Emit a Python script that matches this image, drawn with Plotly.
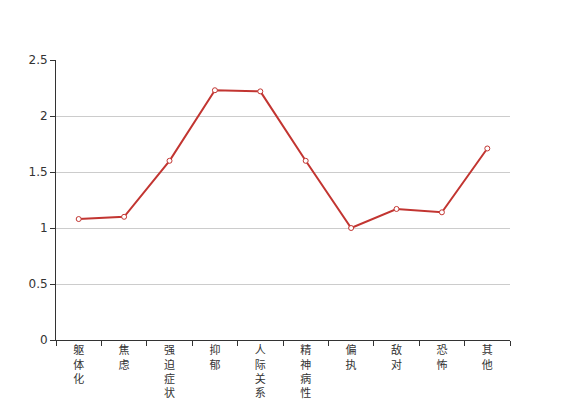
import plotly.graph_objects as go

categories = ["躯体化", "焦虑", "强迫症状", "抑郁", "人际关系敏感", "精神病性", "偏执", "敌对", "恐怖", "其他"]
values = [1.08, 1.10, 1.60, 2.23, 2.22, 1.60, 1.00, 1.17, 1.14, 1.71]

tick_text = ["<br>".join(list(c)) for c in categories]

fig = go.Figure()
fig.add_trace(go.Scatter(
    x=categories, y=values, mode="lines+markers",
    line=dict(color="#c23531", width=2),
    marker=dict(symbol="circle", size=5, color="white", line=dict(color="#c23531", width=1)),
    cliponaxis=False,
))

font_family = "DejaVu Sans, Noto Sans CJK SC, sans-serif"
# page body has an 8px margin, so the figure is offset by 8px
fig.update_layout(
    width=559, height=392,
    margin=dict(l=48, r=57, t=52, b=60),
    plot_bgcolor="white", paper_bgcolor="white",
    showlegend=False,
    font=dict(family=font_family, size=12, color="#333"),
    xaxis=dict(
        type="category", automargin=False,
        tickmode="array", tickvals=categories, ticktext=tick_text,
        tickson="boundaries", ticks="outside", ticklen=5, tickcolor="#333",
        showline=True, linecolor="#333", linewidth=1,
        showgrid=False, zeroline=False,
        tickfont=dict(size=11, color="#333"),
        range=[-0.5, 9.5],
    ),
    yaxis=dict(
        automargin=False,
        range=[0, 2.5], tickvals=[0, 0.5, 1, 1.5, 2, 2.5],
        ticktext=["0", "0.5", "1", "1.5", "2", "2.5"],
        ticks="outside", ticklen=5, tickcolor="#333",
        showline=True, linecolor="#333", linewidth=1,
        showgrid=True, gridcolor="#ccc", gridwidth=1,
        zeroline=False,
        tickfont=dict(size=12, color="#333"),
    ),
)

fig.write_html("out.html")
